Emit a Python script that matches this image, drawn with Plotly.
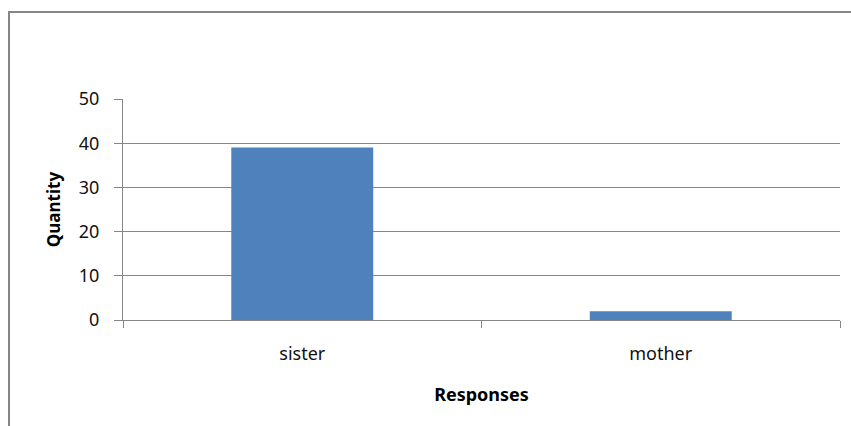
import plotly.graph_objects as go

categories = ["sister", "mother"]
values = [39, 2]
y_ticks = [0, 10, 20, 30, 40, 50]

GRAY = "#868686"
FONT = "Noto Sans"

fig = go.Figure(go.Bar(x=categories, y=values, marker=dict(color="#4F81BD", line=dict(width=0)), width=0.396))

fig.update_layout(
    width=851, height=426,
    margin=dict(l=123, r=11, t=99, b=106),
    paper_bgcolor="white", plot_bgcolor="white",
    showlegend=False,
    font=dict(family=FONT, size=18, color="#000000"),
    xaxis=dict(
        type="category", tickson="boundaries", ticks="outside", ticklen=7, tickcolor=GRAY,
        showline=True, linecolor=GRAY, linewidth=1, showgrid=False,
        tickfont=dict(family=FONT, size=18, color="#111111"), ticklabelstandoff=17,
        title=dict(text="<b>Responses</b>", font=dict(family=FONT, size=18), standoff=24),
    ),
    yaxis=dict(
        range=[0, 50], tickvals=y_ticks, ticks="outside", ticklen=8, tickcolor=GRAY,
        showline=True, linecolor=GRAY, linewidth=1,
        showgrid=True, gridcolor=GRAY, gridwidth=1, zeroline=False,
        tickfont=dict(family=FONT, size=18, color="#111111"), ticklabelstandoff=11,
        title=dict(text="<b>Quantity</b>", font=dict(family=FONT, size=17), standoff=13),
    ),
    shapes=[dict(type="rect", xref="paper", yref="paper",
                 x0=(9 - 123) / 717, x1=(860 - 123) / 717,
                 y0=(320 - 440) / 221, y1=(320 - 12) / 221,
                 line=dict(color=GRAY, width=2), fillcolor="rgba(0,0,0,0)", layer="below")],
)

fig.write_html("out.html")
